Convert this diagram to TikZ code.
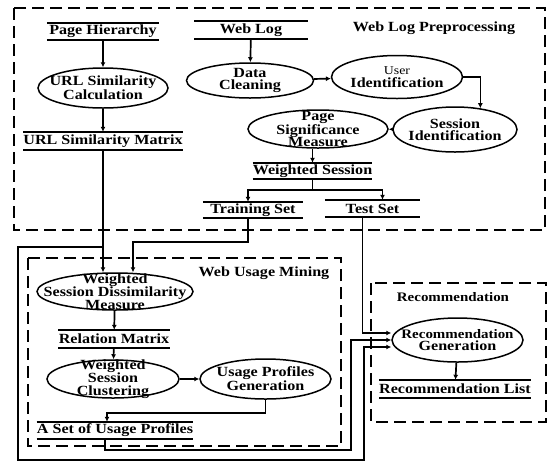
\documentclass[tikz,border=0pt]{standalone}
\usepackage{fontspec}
\setmainfont[FakeStretch=1.15]{Liberation Serif}
\usetikzlibrary{arrows.meta,shapes.geometric}

\tikzset{
  txt/.style={font=\bfseries\fontsize{14}{12.5}\selectfont, align=center, inner sep=0pt},
  small/.style={font=\bfseries\fontsize{13}{12.5}\selectfont},
  proc/.style n args={3}{ellipse, draw, line width=1.5pt, inner sep=0pt,
    minimum width=#1, minimum height=#2,
    append after command={node[txt] at (\tikzlastnode.center) {#3}}},
  store/.style={txt, minimum width=#1, minimum height=17pt,
    append after command={
      (\tikzlastnode.north west) edge[draw, -, line width=1.6pt] (\tikzlastnode.north east)
      (\tikzlastnode.south west) edge[draw, -, line width=1.6pt] (\tikzlastnode.south east)}},
  grp/.style={draw, line width=2pt, dash pattern=on 12pt off 6pt},
  arr/.style={line width=1.7pt, -{Latex[length=5pt,width=5pt]}},
  link/.style={line width=1.7pt}
}

\begin{document}
\begin{tikzpicture}[x=1pt,y=-1pt]
  \useasboundingbox (0,0) rectangle (548,464);
  \draw[grp] (14,8) rectangle (545,230);
  \draw[grp] (28,258) rectangle (341,446);
  \draw[grp] (371,283) rectangle (546,422);
  \node[txt] (tprep) at (434,28) {Web Log Preprocessing};
  \node[txt] (tmine) at (264,273) {Web Usage Mining};
  \node[txt, small] (trec) at (453,297) {Recommendation};

  \node[store=112pt] (ph) at (103,31.5) {Page Hierarchy};
  \node[proc={130pt}{40pt}{URL Similarity\\Calculation}] (usc) at (103,88) {};
  \node[store=154pt, minimum height=18pt] (usm) at (103,141) {URL Similarity Matrix};
  \node[store=113pt, minimum height=18pt] (wl) at (251,30) {Web Log};
  \node[proc={127pt}{35pt}{Data\\Cleaning}] (dc) at (250,80.5) {};
  \node[proc={131pt}{43pt}{{\mdseries\fontsize{12}{12}\selectfont User}\\Identification}] (ui) at (397,77) {};
  \node[proc={124pt}{45pt}{Session\\Identification}] (si) at (455,129.5) {};
  \node[proc={140pt}{38pt}{Page\\Significance\\Measure}] (ps) at (318,129) {};
  \node[store=111pt, minimum height=16pt] (ws) at (312.5,171) {Weighted Session};
  \node[store=100pt, minimum height=16pt] (tr) at (253,210) {Training Set};
  \node[store=95pt] (ts) at (372.5,208.5) {Test Set};

  \node[proc={156pt}{37pt}{Weighted\\Session Dissimilarity\\Measure}] (wsd) at (115,291.5) {};
  \node[store=111pt, minimum height=18pt] (rm) at (114,339) {Relation Matrix};
  \node[proc={132pt}{38pt}{Weighted\\Session\\Clustering}] (wsc) at (113,379) {};
  \node[proc={131pt}{40pt}{Usage Profiles\\Generation}] (upg) at (265.5,379) {};
  \node[store=150pt] (aus) at (115,430.5) {A Set of Usage Profiles};

  \node[proc={131pt}{44pt}{\fontsize{13}{12.5}\selectfont Recommendation\\Generation}] (rg) at (457.5,340) {};
  \node[store=144pt, minimum height=18pt] (rl) at (455,389) {Recommendation List};

  \coordinate (sp) at (312.5,190);
  \coordinate (jn) at (103,247);
  \coordinate (lb) at (18,460);
  \coordinate (rb) at (364,460);
  \coordinate (ub) at (351,450);

  \draw[arr] (ph) -- (usc);
  \draw[arr] (usc) -- (usm);
  \draw[arr] (wl) -- (dc);
  \draw[arr] (dc) -- (ui);
  \draw[arr] (ui.east) -| (si.40);
  \draw[arr] (si) -- (ps);
  \draw[arr] (ws.north |- ps.south) -- (ws.north);
  \draw[link] (ws.south) -- (sp);
  \draw[arr] (sp) -| ([xshift=-5pt]tr.north);
  \draw[arr] (sp) -| ([xshift=10pt]ts.north);
  \draw[arr] (usm.south) -- (usm.south |- wsd.north);
  \draw[arr] ([xshift=-5pt]tr.south) -- ++(0,24) -| ([xshift=18pt]wsd.north);
  \draw[arr] (jn) -| (lb) -- (rb) |- ([yshift=-7pt]rg.west);
  \draw[arr] ([xshift=-10pt]ts.south) |- ([yshift=7pt]rg.west);
  \draw[arr] ([xshift=-10pt]aus.south) |- (ub) |- (rg.west);
  \draw[arr] (wsd) -- (rm);
  \draw[arr] (rm) -- (wsc);
  \draw[arr] (wsc) -- (upg);
  \draw[arr] (upg.south) -- ++(0,13) -| ([xshift=-8pt]aus.north);
  \draw[arr] (rg) -- (rl);
\end{tikzpicture}
\end{document}
